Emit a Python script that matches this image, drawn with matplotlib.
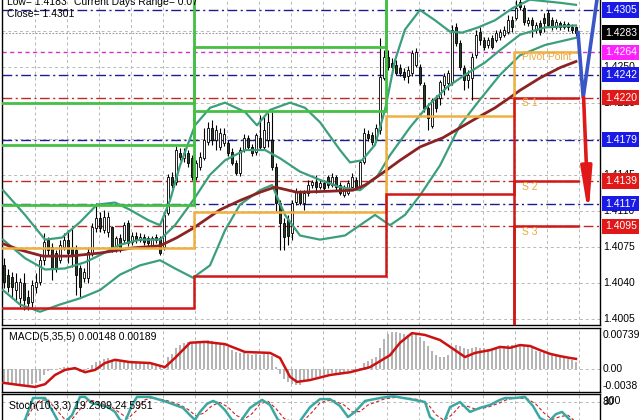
"""Recreate the 30-minute pivot chart with MACD and stochastic panes."""
import matplotlib
matplotlib.use("Agg")
import matplotlib.pyplot as plt
import numpy as np
from matplotlib.transforms import blended_transform_factory

plt.rcParams["font.family"] = ["Liberation Sans", "DejaVu Sans"]

# ---- candles -------------------------------------------------------------
opens = [
    1.4057, 1.4048, 1.4046, 1.4033, 1.4025, 1.4040, 1.4026, 1.4021, 1.4036, 1.4041,
    1.4062, 1.4082, 1.4075, 1.4069, 1.4062, 1.4075, 1.4082, 1.4074, 1.4072, 1.4054,
    1.4045, 1.4045, 1.4069, 1.4093, 1.4103, 1.4091, 1.4089, 1.4094, 1.4072, 1.4084,
    1.4082, 1.4098, 1.4080, 1.4086, 1.4082, 1.4085, 1.4084, 1.4077, 1.4085, 1.4084,
    1.4075, 1.4108, 1.4143, 1.4138, 1.4166, 1.4161, 1.4166, 1.4161, 1.4143, 1.4153,
    1.4161, 1.4177, 1.4190, 1.4179, 1.4172, 1.4176, 1.4176, 1.4167, 1.4156, 1.4147,
    1.4169, 1.4181, 1.4172, 1.4167, 1.4181, 1.4172, 1.4179, 1.4179, 1.4153, 1.4118,
    1.4098, 1.4101, 1.4088, 1.4119, 1.4127, 1.4118, 1.4127, 1.4135, 1.4138, 1.4133,
    1.4137, 1.4143, 1.4135, 1.4143, 1.4135, 1.4125, 1.4127, 1.4133, 1.4140, 1.4133,
    1.4157, 1.4185, 1.4184, 1.4179, 1.4188, 1.4239, 1.4259, 1.4254, 1.4252, 1.4249,
    1.4245, 1.4241, 1.4244, 1.4252, 1.4250, 1.4232, 1.4210, 1.4192, 1.4220, 1.4220,
    1.4232, 1.4234, 1.4235, 1.4288, 1.4273, 1.4249, 1.4237, 1.4239, 1.4261, 1.4284,
    1.4276, 1.4271, 1.4278, 1.4276, 1.4279, 1.4281, 1.4284, 1.4295, 1.4297, 1.4313,
    1.4307, 1.4292, 1.4295, 1.4286, 1.4292, 1.4297, 1.4302, 1.4295, 1.4288, 1.4292,
    1.4288, 1.4291, 1.4288, 1.4288,
]
highs = [
    1.4064, 1.4053, 1.4051, 1.4050, 1.4045, 1.4050, 1.4033, 1.4043, 1.4050, 1.4067,
    1.4088, 1.4085, 1.4079, 1.4072, 1.4082, 1.4088, 1.4091, 1.4093, 1.4077, 1.4057,
    1.4054, 1.4075, 1.4098, 1.4118, 1.4109, 1.4111, 1.4109, 1.4095, 1.4086, 1.4087,
    1.4099, 1.4101, 1.4089, 1.4089, 1.4088, 1.4087, 1.4086, 1.4086, 1.4087, 1.4086,
    1.4109, 1.4146, 1.4148, 1.4173, 1.4171, 1.4171, 1.4169, 1.4164, 1.4159, 1.4167,
    1.4190, 1.4196, 1.4198, 1.4193, 1.4190, 1.4190, 1.4179, 1.4171, 1.4159, 1.4172,
    1.4185, 1.4184, 1.4175, 1.4186, 1.4203, 1.4201, 1.4205, 1.4206, 1.4156, 1.4120,
    1.4103, 1.4106, 1.4120, 1.4132, 1.4130, 1.4130, 1.4140, 1.4140, 1.4145, 1.4140,
    1.4140, 1.4145, 1.4147, 1.4145, 1.4138, 1.4135, 1.4140, 1.4147, 1.4143, 1.4159,
    1.4190, 1.4188, 1.4187, 1.4194, 1.4278, 1.4266, 1.4266, 1.4258, 1.4256, 1.4253,
    1.4249, 1.4251, 1.4266, 1.4268, 1.4253, 1.4235, 1.4215, 1.4220, 1.4222, 1.4237,
    1.4244, 1.4247, 1.4290, 1.4292, 1.4276, 1.4252, 1.4247, 1.4263, 1.4286, 1.4288,
    1.4279, 1.4279, 1.4281, 1.4286, 1.4287, 1.4289, 1.4300, 1.4299, 1.4315, 1.4320,
    1.4310, 1.4298, 1.4298, 1.4293, 1.4295, 1.4302, 1.4305, 1.4298, 1.4296, 1.4294,
    1.4294, 1.4293, 1.4291, 1.4289,
]
lows = [
    1.4035, 1.4031, 1.4026, 1.4023, 1.4017, 1.4014, 1.4014, 1.4017, 1.4030, 1.4038,
    1.4057, 1.4067, 1.4043, 1.4051, 1.4059, 1.4072, 1.4059, 1.4055, 1.4028, 1.4026,
    1.4041, 1.4040, 1.4066, 1.4089, 1.4089, 1.4088, 1.4085, 1.4070, 1.4070, 1.4070,
    1.4079, 1.4076, 1.4077, 1.4079, 1.4080, 1.4077, 1.4076, 1.4075, 1.4079, 1.4067,
    1.4072, 1.4106, 1.4132, 1.4135, 1.4159, 1.4157, 1.4153, 1.4140, 1.4140, 1.4150,
    1.4159, 1.4174, 1.4174, 1.4169, 1.4169, 1.4173, 1.4163, 1.4154, 1.4145, 1.4144,
    1.4167, 1.4169, 1.4163, 1.4164, 1.4169, 1.4169, 1.4172, 1.4150, 1.4110, 1.4072,
    1.4072, 1.4077, 1.4082, 1.4116, 1.4116, 1.4111, 1.4124, 1.4132, 1.4127, 1.4131,
    1.4130, 1.4132, 1.4133, 1.4130, 1.4125, 1.4123, 1.4125, 1.4130, 1.4130, 1.4130,
    1.4155, 1.4178, 1.4174, 1.4177, 1.4185, 1.4237, 1.4247, 1.4247, 1.4242, 1.4241,
    1.4237, 1.4234, 1.4241, 1.4250, 1.4232, 1.4206, 1.4188, 1.4190, 1.4206, 1.4213,
    1.4222, 1.4227, 1.4232, 1.4270, 1.4247, 1.4227, 1.4229, 1.4218, 1.4258, 1.4271,
    1.4266, 1.4268, 1.4267, 1.4274, 1.4276, 1.4279, 1.4282, 1.4284, 1.4295, 1.4305,
    1.4290, 1.4289, 1.4279, 1.4283, 1.4281, 1.4284, 1.4288, 1.4286, 1.4287, 1.4286,
    1.4287, 1.4285, 1.4283, 1.4280,
]
closes = [
    1.4041, 1.4036, 1.4036, 1.4041, 1.4041, 1.4023, 1.4020, 1.4038, 1.4041, 1.4062,
    1.4080, 1.4072, 1.4053, 1.4054, 1.4077, 1.4082, 1.4069, 1.4067, 1.4048, 1.4036,
    1.4051, 1.4070, 1.4094, 1.4103, 1.4093, 1.4104, 1.4104, 1.4072, 1.4084, 1.4072,
    1.4096, 1.4079, 1.4086, 1.4082, 1.4085, 1.4080, 1.4079, 1.4084, 1.4082, 1.4069,
    1.4106, 1.4143, 1.4135, 1.4169, 1.4162, 1.4166, 1.4156, 1.4143, 1.4156, 1.4162,
    1.4179, 1.4190, 1.4179, 1.4188, 1.4186, 1.4185, 1.4166, 1.4156, 1.4147, 1.4169,
    1.4181, 1.4172, 1.4166, 1.4184, 1.4172, 1.4188, 1.4196, 1.4153, 1.4118, 1.4098,
    1.4085, 1.4086, 1.4118, 1.4128, 1.4118, 1.4127, 1.4135, 1.4138, 1.4133, 1.4137,
    1.4132, 1.4135, 1.4143, 1.4133, 1.4127, 1.4133, 1.4137, 1.4143, 1.4132, 1.4157,
    1.4186, 1.4181, 1.4177, 1.4190, 1.4240, 1.4259, 1.4250, 1.4250, 1.4244, 1.4244,
    1.4240, 1.4247, 1.4263, 1.4264, 1.4234, 1.4210, 1.4200, 1.4218, 1.4210, 1.4235,
    1.4241, 1.4244, 1.4286, 1.4273, 1.4250, 1.4237, 1.4242, 1.4259, 1.4281, 1.4276,
    1.4269, 1.4276, 1.4269, 1.4283, 1.4284, 1.4286, 1.4295, 1.4288, 1.4307, 1.4308,
    1.4293, 1.4295, 1.4290, 1.4290, 1.4284, 1.4292, 1.4290, 1.4288, 1.4293, 1.4288,
    1.4291, 1.4288, 1.4286, 1.4283,
]

# ---- overlays (bar index, price) ------------------------------------------
ma_line = [(-0.25, 1.4078), (4, 1.4072), (9.75, 1.4066), (16.5, 1.4066), (24, 1.4069),
           (32.25, 1.4074), (39, 1.4076), (43.25, 1.4084), (47.25, 1.4093), (54, 1.4111),
           (59, 1.4120), (64, 1.4128), (67.75, 1.4133), (73.25, 1.4128), (81.5, 1.4129),
           (87.25, 1.4130), (90.25, 1.4135), (94.75, 1.4147), (99, 1.4159), (104, 1.4172),
           (109.75, 1.4181), (117.25, 1.4198), (122.75, 1.4210), (126.5, 1.4220),
           (129, 1.4227), (134, 1.4239), (139, 1.4249), (143, 1.4255)]
bb_upper = [(-0.25, 1.4130), (5.25, 1.4106), (10.25, 1.4082), (14.5, 1.4084), (19, 1.4099),
            (23.25, 1.4116), (27.75, 1.4118), (31.5, 1.4111), (36, 1.4101), (39, 1.4096),
            (41.5, 1.4120), (44, 1.4154), (47.75, 1.4193), (51.5, 1.4210), (55.25, 1.4215),
            (60.25, 1.4206), (63.25, 1.4193), (66.5, 1.4208), (71.5, 1.4215), (75.25, 1.4210),
            (79, 1.4196), (84, 1.4169), (86.5, 1.4157), (89.5, 1.4159), (92.75, 1.4174),
            (95.25, 1.4208), (97.75, 1.4256), (100.25, 1.4286), (104, 1.4305),
            (107.75, 1.4295), (111.5, 1.4284), (114.5, 1.4283), (118.5, 1.4288),
            (122.75, 1.4295), (127.25, 1.4307), (131.5, 1.4315), (139, 1.4312), (143, 1.4310)]
bb_middle = [(-0.25, 1.4082), (5.25, 1.4064), (10.25, 1.4053), (15.25, 1.4054), (20.25, 1.4060),
             (24, 1.4067), (29, 1.4077), (34, 1.4082), (39, 1.4082), (42.75, 1.4096),
             (47.25, 1.4120), (51.5, 1.4145), (55.25, 1.4159), (60.25, 1.4169), (65.25, 1.4169),
             (69, 1.4161), (74, 1.4148), (79, 1.4140), (84, 1.4133), (89, 1.4130),
             (93.25, 1.4143), (96.5, 1.4164), (101.5, 1.4191), (105.75, 1.4211),
             (110.75, 1.4230), (115.25, 1.4242), (120.25, 1.4254), (124, 1.4266),
             (129, 1.4281), (135.25, 1.4288), (143, 1.4290)]
bb_lower = [(-0.25, 1.4033), (4, 1.4019), (9, 1.4012), (14, 1.4019), (19, 1.4025),
            (24, 1.4033), (29, 1.4048), (34, 1.4057), (39, 1.4062), (42.75, 1.4054),
            (47.25, 1.4045), (51.5, 1.4057), (55.25, 1.4091), (59, 1.4116), (64, 1.4130),
            (67, 1.4135), (70.25, 1.4106), (74, 1.4086), (79, 1.4082), (85.25, 1.4086),
            (89, 1.4096), (92.75, 1.4106), (96.5, 1.4096), (100.25, 1.4106), (104, 1.4125),
            (109, 1.4154), (114, 1.4193), (119, 1.4218), (124, 1.4242), (129, 1.4261),
            (135.25, 1.4271), (143, 1.4278)]

# ---- pivot levels per session --------------------------------------------
day_edges = [-0.5, 47.5, 95.5, 127.5, 143.5]
piv_p = [1.4074, 1.4109, 1.4202, 1.4264]
piv_s1 = [1.4016, 1.4047, 1.4126, 1.4220]
piv_s2 = [1.3980, 1.4139]  # sessions 3-4
piv_s3 = [1.3950, 1.4095]
piv_r1 = [1.4116, 1.4207, 1.4330]
piv_r2 = [1.4174, 1.4269, 1.4380]
piv_r3 = [1.4215, 1.4367, 1.4420]

mid_levels = [1.4305, 1.4242, 1.4179, 1.4117]
sup_levels = [1.4220, 1.4139, 1.4095]
pivot_level = 1.4264
last_price = 1.4283
price_ticks = [1.4005, 1.4040, 1.4075, 1.4110, 1.4145, 1.4180, 1.4215, 1.4250, 1.4285]

# ---- MACD ----------------------------------------------------------------
macd_hist = [
    -0.0028, -0.0030, -0.0031, -0.0032, -0.0033, -0.0034, -0.0034, -0.0033, -0.0031, -0.0026,
    -0.0012, -0.0005, -0.0003, 0.0000, 0.0003, 0.0005, 0.0005, 0.0003, -0.0003, -0.0006,
    -0.0004, 0.0002, 0.0008, 0.0015, 0.0018, 0.0022, 0.0024, 0.0020, 0.0020, 0.0018,
    0.0020, 0.0017, 0.0017, 0.0016, 0.0015, 0.0013, 0.0012, 0.0012, 0.0011, 0.0008,
    0.0004, 0.0025, 0.0033, 0.0045, 0.0052, 0.0056, 0.0058, 0.0055, 0.0056, 0.0058,
    0.0060, 0.0062, 0.0060, 0.0058, 0.0055, 0.0052, 0.0048, 0.0042, 0.0036, 0.0035,
    0.0035, 0.0033, 0.0030, 0.0032, 0.0030, 0.0033, 0.0035, 0.0028, 0.0005, -0.0010,
    -0.0022, -0.0028, -0.0033, -0.0035, -0.0034, -0.0028, -0.0022, -0.0020, -0.0017, -0.0015,
    -0.0013, -0.0010, -0.0009, -0.0008, -0.0008, -0.0007, -0.0005, -0.0003, -0.0002, 0.0003,
    0.0012, 0.0018, 0.0022, 0.0025, 0.0045, 0.0065, 0.0075, 0.0080, 0.0080, 0.0078,
    0.0076, 0.0074, 0.0076, 0.0075, 0.0070, 0.0060, 0.0050, 0.0040, 0.0030, 0.0027,
    0.0026, 0.0030, 0.0045, 0.0052, 0.0050, 0.0046, 0.0044, 0.0045, 0.0047, 0.0046,
    0.0045, 0.0044, 0.0044, 0.0045, 0.0046, 0.0050, 0.0052, 0.0052, 0.0053, 0.0052,
    0.0050, 0.0048, 0.0045, 0.0040, 0.0036, 0.0034, 0.0032, 0.0030, 0.0028, 0.0026,
    0.0024, 0.0022, 0.0019, 0.0016,
]
macd_signal = [(-0.25, -0.0030), (4, -0.0035), (7.75, -0.0039), (10.25, -0.0033),
               (12.75, -0.0013), (15.25, -0.0002), (17.75, 0.0002), (20.25, -0.0007),
               (22.75, -0.0002), (25.25, 0.0013), (27.75, 0.0020), (31.5, 0.0015),
               (36.5, 0.0013), (40.25, 0.0004), (42.75, 0.0024), (46.5, 0.0057),
               (50.25, 0.0059), (55.25, 0.0054), (60.25, 0.0037), (66.5, 0.0035),
               (69, 0.0024), (71.5, -0.0017), (73.25, -0.0028), (76.5, -0.0024),
               (81.5, -0.0013), (86.5, -0.0007), (91.5, 0.0004), (96.5, 0.0030),
               (99, 0.0057), (102, 0.0078), (105.25, 0.0074), (109, 0.0063),
               (112.75, 0.0041), (115.25, 0.0026), (117.75, 0.0035), (121.5, 0.0041),
               (124, 0.0048), (126.5, 0.0046), (129, 0.0052), (131.5, 0.0050),
               (134, 0.0041), (136.5, 0.0033), (139, 0.0028), (141.5, 0.0024), (143, 0.0022)]

# ---- Stochastic -----------------------------------------------------------
stoch_main = [(0, 20), (4, 22), (5.25, 31), (7.25, 91), (10.25, 91), (12, 58), (13.5, 28),
              (15.25, 25), (17, 44), (19, 94), (20.25, 94), (22, 77), (24, 72), (26, 66),
              (27.75, 53), (29, 31), (30.25, 25), (32, 72), (33.25, 94), (36.5, 94), (39, 86),
              (40.75, 80), (42.75, 72), (44.75, 64), (46.5, 44), (47.75, 31), (49, 53),
              (50.75, 75), (52.25, 83), (53.5, 77), (55.25, 58), (57, 31), (59, 25),
              (61.5, 64), (64.5, 86), (66.5, 72), (68.5, 31), (71.5, 17), (74, 28),
              (76.5, 66), (79, 88), (81.5, 88), (84, 69), (86, 39), (87.75, 53), (90.25, 83),
              (94, 91), (97.25, 96), (101.5, 88), (105.25, 80), (106.5, 39), (108.5, 22),
              (110, 25), (111.5, 66), (114, 80), (116.5, 53), (119, 64), (121.5, 72),
              (124, 86), (125.25, 91), (127.75, 91), (130.25, 94), (132.25, 69), (134, 36),
              (136, 25), (138, 47), (139.5, 53), (141.5, 31), (143, 19)]
stoch_signal = [(0, 25), (5, 24), (7, 60), (9, 85), (11, 86), (13, 60), (15, 35), (17, 33),
                (19, 60), (21, 86), (23, 82), (25, 73), (27, 66), (29, 50), (31, 35), (33, 55),
                (35, 85), (37, 92), (40, 86), (42, 80), (44, 72), (46, 60), (48, 42), (50, 50),
                (52, 70), (54, 79), (56, 66), (58, 44), (60, 33), (62, 48), (64, 75), (66, 82),
                (68, 62), (70, 35), (73, 22), (75, 30), (77, 52), (79, 78), (82, 86), (85, 72),
                (87, 53), (89, 54), (91, 72), (95, 88), (98, 93), (101, 91), (104, 86),
                (106, 74), (108, 45), (110, 30), (112, 45), (114, 70), (116, 68), (118, 60),
                (121, 66), (124, 78), (126, 88), (129, 91), (131, 88), (133, 74), (135, 50),
                (137, 32), (139, 40), (141, 44), (143, 25)]

# ---- colours ----------------------------------------------------------------
NAVY = "#1c1c8a"
RED = "#d01818"
GREEN = "#45c045"
ORANGE = "#f0b040"
BAND = "#3c9f7c"
MA_COL = "#8b2323"
GRID = "#b8b8b8"

W, H = 640, 420
fig = plt.figure(figsize=(W / 100, H / 100), dpi=100)


def px_axes(x0, y0, x1, y1):
    return fig.add_axes([x0 / W, 1 - y1 / H, (x1 - x0) / W, (y1 - y0) / H])


ax = px_axes(2, 0, 600, 325)
ax_macd = px_axes(2, 327.5, 600, 391.5)
ax_st = px_axes(2, 394, 600, 432)

grid_x = np.arange(7.75, 145, 8)
for a in (ax, ax_macd, ax_st):
    a.set_xlim(-0.5, 149)
    a.set_xticks([])
    a.set_yticks([])
    for s in a.spines.values():
        s.set_linewidth(1.0)
    for gx in grid_x:
        a.axvline(gx, color=GRID, lw=0.7, ls=(0, (3, 3)), zorder=0)
ax.spines["top"].set_visible(False)
ax_st.spines["bottom"].set_visible(False)

# ---- main pane ---------------------------------------------------------------
ax.set_ylim(1.39991, 1.43147)
for p in price_ticks:
    ax.axhline(p, color=GRID, lw=0.7, ls=(0, (3, 3)), zorder=0)

for lev in mid_levels:
    ax.axhline(lev, color=NAVY, lw=1.0, ls=(0, (7, 2.5, 1.5, 2.5)), zorder=1)
for lev in sup_levels:
    ax.axhline(lev, color="#c02828", lw=1.0, ls=(0, (7, 2.5, 1.5, 2.5)), zorder=1)
ax.axhline(pivot_level, color="#d030d0", lw=1.0, ls=(0, (3, 2.5)), zorder=1)
ax.axhline(last_price, color="#9a9a9a", lw=0.8, ls=(0, (1.5, 1.5)), zorder=1)


def step(levels, color, lw, first=0):
    xs, ys = [], []
    for k, lev in enumerate(levels):
        xs += [day_edges[first + k], day_edges[first + k + 1]]
        ys += [lev, lev]
    ax.plot(xs, ys, color=color, lw=lw, zorder=5, solid_joinstyle="miter")


for lv in (piv_r1, piv_r2, piv_r3):
    step(lv, GREEN, 2.0)
step(piv_p, ORANGE, 1.8)
step(piv_s1, RED, 1.8)
step(piv_s2, RED, 1.8, first=2)
step(piv_s3, RED, 1.8, first=2)

label_x = 129.5
for txt, y in [("Pivot Point", 1.4259), ("S 1", 1.4215), ("S 2", 1.4133), ("S 3", 1.4089)]:
    ax.text(label_x, y, txt, color="#e8a840", fontsize=7.5, va="center", ha="left", zorder=6)

# candles
idx = np.arange(len(closes))
o, hi, lo, c = (np.array(v) for v in (opens, highs, lows, closes))
ax.vlines(idx, lo, hi, color="black", lw=0.8, zorder=3)
bull = c >= o
body_h = np.maximum(np.abs(c - o), 0.00004)
ax.bar(idx, body_h, bottom=np.minimum(o, c), width=0.7,
       color=np.where(bull, "white", "#243f24"), edgecolor="black", linewidth=0.6, zorder=3)

# moving average and bands
for pts, col, lw in [(bb_upper, BAND, 1.6), (bb_middle, BAND, 1.6), (bb_lower, BAND, 1.6),
                     (ma_line, MA_COL, 2.0)]:
    xs, ys = zip(*pts)
    ax.plot(xs, ys, color=col, lw=lw, zorder=4)

# projection arrows
ax.plot([143.5, 144.8, 148.6], [1.4283, 1.4220, 1.4325], color="#3a55c6", lw=2.6, zorder=7)
ax.annotate("", xy=(146.1, 1.4106), xytext=(144.9, 1.4220),
            arrowprops=dict(arrowstyle="-|>,head_length=1.3,head_width=0.16", color="#e01818",
                            lw=2.6, mutation_scale=20, shrinkA=0, shrinkB=0), zorder=7)

# right-hand price scale
tr = blended_transform_factory(ax.transAxes, ax.transData)
for p in price_ticks:
    ax.text(1.005, p, f"{p:.4f}", transform=tr, fontsize=7.5, va="center", ha="left")
boxes = [(1.4305, "#1a1ae6"), (1.4283, "black"), (1.4264, "#ff20ff"), (1.4242, "#1a1ae6"),
         (1.4220, "#e01818"), (1.4179, "#1a1ae6"), (1.4139, "#e01818"), (1.4117, "#1a1ae6"),
         (1.4095, "#e01818")]
for lev, col in boxes:
    ax.text(1.008, lev, f"{lev:.4f}", transform=tr, fontsize=7.5, va="center", ha="left",
            color="white", zorder=10,
            bbox=dict(boxstyle="square,pad=0.25", fc=col, ec="none"))

fig.text(7 / W, 1 - 2 / H, "Low= 1.4183", fontsize=7.5, va="center")
fig.text(74 / W, 1 - 2 / H, "Current Days Range= 0.07", fontsize=7.5, va="center")
fig.text(7 / W, 1 - 14 / H, "Close= 1.4301", fontsize=7.5, va="center")

# ---- MACD pane ---------------------------------------------------------------
ax_macd.set_ylim(-0.00489, 0.00902)
ax_macd.axhline(0, color=GRID, lw=0.7, ls=(0, (3, 3)), zorder=0)
ax_macd.bar(idx, macd_hist, width=0.45, color="#b4b4b4", zorder=2)
xs, ys = zip(*macd_signal)
ax_macd.plot(xs, ys, color="#cc1111", lw=1.8, zorder=3)
ax_macd.text(7 / 598, 0.85, "MACD(5,35,5) 0.00148 0.00189", transform=ax_macd.transAxes,
             fontsize=7.5, va="center")
trm = blended_transform_factory(ax_macd.transAxes, ax_macd.transData)
for v, s in [(0.00739, "0.00739"), (0.0, "0.00"), (-0.0038, "-0.0038")]:
    ax_macd.text(1.005, v, s, transform=trm, fontsize=7.5, va="center", ha="left")

# ---- Stochastic pane -----------------------------------------------------------
ax_st.set_ylim(-2, 102)
ax_st.axhline(80, color=GRID, lw=0.7, ls=(0, (3, 3)), zorder=0)
xs, ys = zip(*stoch_main)
ax_st.plot(xs, ys, color="#3aa8a2", lw=1.8, zorder=3)
xs, ys = zip(*stoch_signal)
ax_st.plot(xs, ys, color="#cc2222", lw=0.8, ls=(0, (3, 2)), zorder=2)
ax_st.text(7 / 598, 69, "Stoch(10,3,3) 19.2309 24.5951", fontsize=7.5, va="center",
           transform=blended_transform_factory(ax_st.transAxes, ax_st.transData))
trs = blended_transform_factory(ax_st.transAxes, ax_st.transData)
ax_st.text(1.005, 84, "100", transform=trs, fontsize=7.5, va="center", ha="left")
ax_st.text(1.005, 80, "80", transform=trs, fontsize=7.5, va="center", ha="left")

fig.savefig("out.png", dpi=100)
